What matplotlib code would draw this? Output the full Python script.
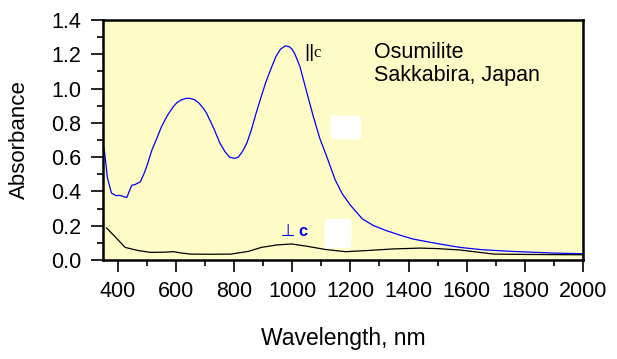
import numpy as np
import matplotlib
matplotlib.use('Agg')
import matplotlib.pyplot as plt
from matplotlib.patches import FancyBboxPatch
from matplotlib.ticker import MultipleLocator, FormatStrFormatter

plt.rcParams['font.family'] = ['Liberation Sans', 'DejaVu Sans']

# ||c spectrum (blue)
par_wl = [350, 356, 365, 379, 395, 408, 420, 432, 440, 449, 460, 478, 490, 500,
          518, 535, 551, 570, 591, 605, 620, 635, 649, 665, 680, 695, 706, 730,
          752, 770, 785, 803, 815, 830, 844, 860, 875, 890, 910, 930, 945, 960,
          976, 990, 1000, 1010, 1027, 1050, 1073, 1095, 1119, 1148, 1172, 1200,
          1241, 1280, 1322, 1370, 1415, 1500, 1577, 1650, 1750, 1900, 2000]
par_abs = [0.68, 0.62, 0.48, 0.39, 0.375, 0.377, 0.37, 0.365, 0.40, 0.436, 0.44,
           0.456, 0.50, 0.545, 0.642, 0.71, 0.778, 0.84, 0.894, 0.92, 0.935,
           0.943, 0.943, 0.935, 0.915, 0.885, 0.856, 0.77, 0.681, 0.63, 0.60,
           0.593, 0.60, 0.635, 0.681, 0.76, 0.85, 0.933, 1.04, 1.128, 1.19,
           1.23, 1.249, 1.245, 1.23, 1.20, 1.128, 0.98, 0.836, 0.71, 0.603,
           0.467, 0.387, 0.32, 0.240, 0.20, 0.172, 0.145, 0.122, 0.095, 0.073,
           0.06, 0.050, 0.040, 0.036]

# _|_c spectrum (black)
perp_wl = [362, 391, 426, 470, 513, 560, 593, 620, 651, 720, 790, 850, 894, 950,
           998, 1050, 1114, 1184, 1260, 1346, 1438, 1500, 1577, 1693, 1800, 2000]
perp_abs = [0.187, 0.136, 0.073, 0.055, 0.044, 0.045, 0.048, 0.040, 0.034,
            0.033, 0.034, 0.050, 0.073, 0.088, 0.093, 0.080, 0.061, 0.048,
            0.055, 0.064, 0.069, 0.066, 0.058, 0.034, 0.032, 0.030]

fig = plt.figure(figsize=(6.17, 3.59), dpi=100)
fig.patch.set_facecolor('white')
ax = fig.add_axes([0.167, 0.276, 0.778, 0.668])
ax.set_facecolor('#FFFBC6')

ax.plot(par_wl, par_abs, color='#0000FF', lw=0.9)
ax.plot(perp_wl, perp_abs, color='black', lw=0.9)

# white blank boxes
for x0, x1, y0, y1 in [(1131, 1237, 0.704, 0.842), (1111, 1203, 0.069, 0.24)]:
    ax.add_patch(FancyBboxPatch((x0, y0), x1 - x0, y1 - y0,
                                boxstyle='round,pad=0,rounding_size=8',
                                mutation_aspect=0.0035,
                                facecolor='white', edgecolor='none', zorder=3))

ax.text(1040, 1.186, '||', fontsize=14, color='black', va='baseline')
ax.text(1072, 1.186, 'c', fontsize=12, color='black',
        family=['Liberation Serif'], va='baseline')
ax.text(962, 0.142, '\u22a5', fontsize=12, color='#0000FF',
        family=['DejaVu Sans'], va='baseline')
ax.text(1022, 0.142, 'c', fontsize=12, color='#0000FF', fontweight='bold',
        va='baseline')

ax.text(1282, 1.177, 'Osumilite', fontsize=15.5, va='baseline')
ax.text(1282, 1.044, 'Sakkabira, Japan', fontsize=15.5, va='baseline')

ax.set_xlim(350, 2000)
ax.set_ylim(0, 1.4)
ax.set_xticks(np.arange(400, 2001, 200))
ax.xaxis.set_minor_locator(MultipleLocator(100))
ax.yaxis.set_major_locator(MultipleLocator(0.2))
ax.yaxis.set_minor_locator(MultipleLocator(0.1))
ax.yaxis.set_major_formatter(FormatStrFormatter('%.1f'))

ax.tick_params(which='major', direction='out', length=8.5, width=1.2,
               labelsize=15.5, pad=7)
ax.tick_params(which='minor', direction='out', length=4, width=1.2)
ax.tick_params(right=False, top=False)
for s in ax.spines.values():
    s.set_linewidth(1.8)

ax.set_xlabel('Wavelength, nm', fontsize=16.5, labelpad=18)
ax.set_ylabel('Absorbance', fontsize=16, labelpad=15)

fig.savefig('out.png', dpi=100, facecolor='white')
